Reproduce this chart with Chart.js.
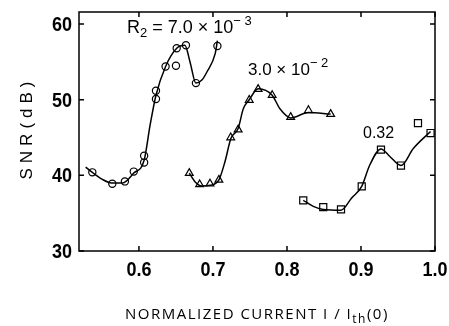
<!DOCTYPE html>
<html>
<head>
<meta charset="utf-8">
<script src="https://cdn.jsdelivr.net/npm/chart.js@4.4.1/dist/chart.umd.min.js"></script>
<style>
  html, body { margin: 0; padding: 0; background: #fff; }
  #wrap { width: 449px; height: 326px; }
</style>
</head>
<body>
<div id="wrap"><canvas id="snrChart"></canvas></div>
<script>
const circleX = [0.537, 0.564, 0.581, 0.593, 0.607, 0.607, 0.623, 0.623, 0.636, 0.650, 0.651, 0.6635, 0.677, 0.706];
const circleY = [40.4, 38.9, 39.2, 40.5, 41.7, 42.6, 50.1, 51.2, 54.4, 54.5, 56.8, 57.2, 52.2, 57.1];
const triangleX = [0.668, 0.682, 0.696, 0.708, 0.724, 0.734, 0.749, 0.761, 0.780, 0.805, 0.829, 0.859];
const triangleY = [40.3, 38.8, 38.9, 39.4, 45.0, 46.05, 49.96, 51.4, 50.6, 47.7, 48.6, 48.1];
const squareX = [0.822, 0.849, 0.873, 0.901, 0.927, 0.954, 0.977, 0.994];
const squareY = [36.7, 35.8, 35.5, 38.55, 43.4, 41.3, 46.9, 45.6];

// hand drawn fitted curves (knots)
const circleCurveX = [0.528, 0.537, 0.550, 0.563, 0.578, 0.593, 0.607, 0.615, 0.623, 0.636, 0.651, 0.662, 0.669, 0.677, 0.685, 0.692, 0.703, 0.706];
const circleCurveY = [41.1, 40.4, 39.5, 39.0, 39.0, 40.3, 42.0, 46.6, 50.6, 54.4, 56.8, 57.2, 55.0, 52.2, 52.6, 53.7, 56.1, 57.8];
const triangleCurveX = [0.668, 0.6757, 0.6847, 0.6964, 0.708, 0.7162, 0.7243, 0.734, 0.741, 0.749, 0.761, 0.780, 0.7905, 0.805, 0.829, 0.859];
const triangleCurveY = [40.3, 39.17, 38.6, 38.7, 39.4, 41.8, 44.9, 46.2, 48.8, 50.0, 51.45, 50.6, 48.8, 47.6, 48.3, 48.1];
const squareCurveX = [0.822, 0.8356, 0.849, 0.873, 0.8874, 0.901, 0.912, 0.927, 0.939, 0.954, 0.9707, 0.994];
const squareCurveY = [36.7, 35.9, 35.5, 35.4, 37.0, 38.55, 41.4, 43.5, 42.5, 41.3, 43.55, 45.8];

const xTicks = [0.6, 0.7, 0.8, 0.9, 1.0];
const yTicks = [30, 40, 50, 60];

const toPts = (xs, ys) => xs.map((x, i) => ({ x: x, y: ys[i] }));

const curve = (xs, ys) => ({
    type: 'line',
    data: toPts(xs, ys),
    borderColor: '#000',
    borderWidth: 1.5,
    pointRadius: 0,
    showLine: true,
    fill: false,
    cubicInterpolationMode: 'monotone'
});

const markers = (xs, ys, style, r) => ({
    data: toPts(xs, ys),
    showLine: false,
    pointStyle: style,
    pointRadius: r,
    pointBackgroundColor: '#fff',
    pointBorderColor: '#000',
    pointBorderWidth: 1.2
});

// frame with inward ticks, tick labels, titles and curve labels
const decorations = {
    id: 'decorations',
    afterDatasetsDraw(chart) {
        const { ctx, chartArea: a, scales } = chart;
        ctx.save();
        ctx.strokeStyle = '#000';
        ctx.lineWidth = 1.5;
        ctx.strokeRect(a.left, a.top, a.right - a.left, a.bottom - a.top);
        ctx.beginPath();
        xTicks.forEach(v => {
            const px = scales.x.getPixelForValue(v);
            ctx.moveTo(px, a.bottom); ctx.lineTo(px, a.bottom - 5);
            ctx.moveTo(px, a.top); ctx.lineTo(px, a.top + 5);
        });
        yTicks.forEach(v => {
            const py = scales.y.getPixelForValue(v);
            ctx.moveTo(a.left, py); ctx.lineTo(a.left + 5, py);
            ctx.moveTo(a.right, py); ctx.lineTo(a.right - 5, py);
        });
        ctx.stroke();

        ctx.fillStyle = '#000';
        // condensed bold tick labels
        const tickFont = "bold 20px 'Liberation Sans', Arial, sans-serif";
        const squeezed = (txt, x, y, align, base) => {
            ctx.save();
            ctx.font = tickFont;
            ctx.textAlign = align;
            ctx.textBaseline = base;
            ctx.translate(x, y);
            ctx.scale(0.9, 1);
            ctx.fillText(txt, 0, 0);
            ctx.restore();
        };
        xTicks.forEach(v => squeezed(v.toFixed(1), scales.x.getPixelForValue(v), 276, 'center', 'alphabetic'));
        yTicks.forEach(v => squeezed(String(v), 72, scales.y.getPixelForValue(v) + 7, 'right', 'alphabetic'));

        ctx.textBaseline = 'alphabetic';
        ctx.textAlign = 'left';
        const sans = "'Liberation Sans', Arial, sans-serif";
        // draws runs of text with offsets for sub/superscripts
        const runs = (x, y, parts) => {
            parts.forEach(p => {
                ctx.font = p[2] + 'px ' + (p[3] || sans);
                ctx.fillText(p[0], x, y + p[1]);
                x += ctx.measureText(p[0]).width;
            });
        };
        runs(127, 33, [['R', 0, 18], ['2', 4, 13], [' = 7.0 \u00d7 10', 0, 18], ['\u2212 3', -8, 13]]);
        runs(248, 75, [['3.0 \u00d7 10', 0, 17], ['\u2212 2', -8, 13]]);
        runs(363, 138, [['0.32', 0, 16]]);

        // y title
        ctx.save();
        ctx.translate(32, 128);
        ctx.rotate(-Math.PI / 2);
        ctx.font = "17px 'Liberation Sans', Arial, sans-serif";
        if ('letterSpacing' in ctx) ctx.letterSpacing = '5px';
        ctx.textAlign = 'center';
        ctx.fillText('SNR(dB)', 0, 0);
        ctx.restore();

        // x title
        const open = "'Open Sans', sans-serif";
        if ('letterSpacing' in ctx) ctx.letterSpacing = '1.5px';
        runs(125, 319, [['NORMALIZED CURRENT I / I', 0, 15, open], ['th', 4, 12, open], ['(0)', 0, 15, open]]);
        ctx.restore();
    }
};

const ctx = document.getElementById('snrChart').getContext('2d');
const snrChart = new Chart(ctx, {
    type: 'scatter',
    data: {
        datasets: [
            curve(circleCurveX, circleCurveY),
            curve(triangleCurveX, triangleCurveY),
            curve(squareCurveX, squareCurveY),
            markers(circleX, circleY, 'circle', 3.6),
            markers(triangleX, triangleY, 'triangle', 4.5),
            markers(squareX, squareY, 'rect', 5)
        ]
    },
    options: {
        responsive: true,
        maintainAspectRatio: false,
        animation: false,
        layout: { padding: { top: 12, right: 14, left: 0, bottom: 0 } },
        plugins: { legend: { display: false }, tooltip: { enabled: false } },
        scales: {
            x: {
                type: 'linear',
                min: 0.519,
                max: 1.0,
                afterBuildTicks: s => { s.ticks = xTicks.map(v => ({ value: v })); },
                afterFit: s => { s.height = 75; },
                grid: { display: false, drawTicks: false },
                border: { display: false },
                ticks: { display: false }
            },
            y: {
                min: 30,
                max: 61.6,
                afterBuildTicks: s => { s.ticks = yTicks.map(v => ({ value: v })); },
                afterFit: s => { s.width = 79; },
                grid: { display: false, drawTicks: false },
                border: { display: false },
                ticks: { display: false }
            }
        }
    },
    plugins: [decorations]
});
</script>
</body>
</html>
